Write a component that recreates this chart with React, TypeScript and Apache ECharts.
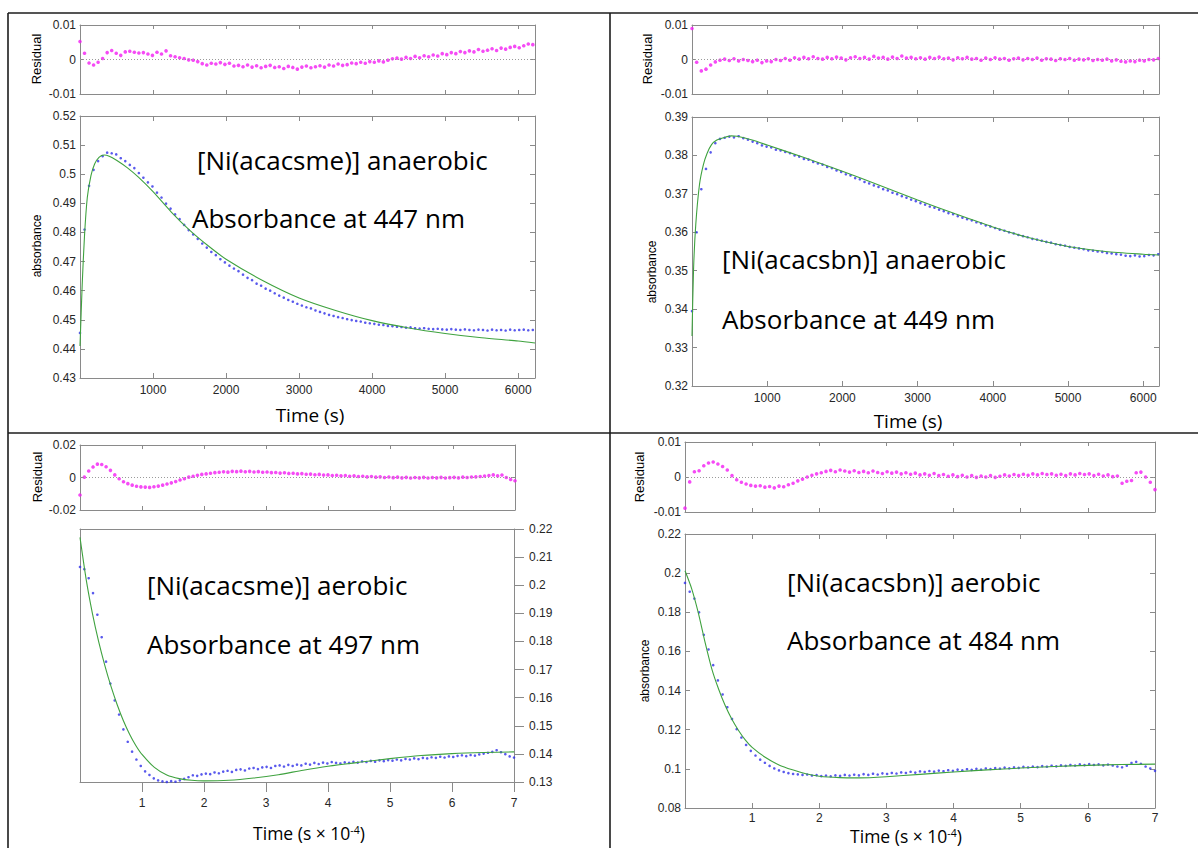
import React, { useEffect, useRef } from 'react';
import * as echarts from 'echarts';

// ---------- sampling ----------
const TOP_STEP = 62; // s between samples (top panels)
const BOTTOM_STEP = 0.07; // 10^4 s between samples (bottom panels)
const N = 101;

// ---------- Panel 1: [Ni(acacsme)] anaerobic ----------
const p1Data = [
  0.4455, 0.481, 0.496, 0.5015, 0.5045, 0.5062, 0.5074, 0.5072, 0.5068, 0.5055,
  0.5045, 0.5032, 0.5021, 0.5004, 0.4988, 0.4972, 0.4958, 0.4937, 0.492, 0.4899,
  0.4882, 0.4862, 0.4846, 0.4826, 0.4808, 0.4793, 0.4778, 0.4762, 0.4748, 0.4733,
  0.4722, 0.4708, 0.4697, 0.4686, 0.4676, 0.4667, 0.4655, 0.4644, 0.4636, 0.4624,
  0.4617, 0.4607, 0.46, 0.4591, 0.4583, 0.4576, 0.4568, 0.4562, 0.4555, 0.4549,
  0.4543, 0.4539, 0.4532, 0.4527, 0.4522, 0.4517, 0.4513, 0.4509, 0.4506, 0.4502,
  0.4499, 0.4496, 0.4494, 0.449, 0.4488, 0.4486, 0.4483, 0.4482, 0.4479, 0.4478,
  0.4476, 0.4475, 0.4473, 0.4474, 0.4471, 0.447, 0.4471, 0.4469, 0.4468, 0.4469,
  0.4467, 0.4466, 0.4468, 0.4466, 0.4465, 0.4467, 0.4465, 0.4464, 0.4466, 0.4465,
  0.4463, 0.4466, 0.4464, 0.4465, 0.4463, 0.4466, 0.4464, 0.4465, 0.4466, 0.4464,
  0.4465,
];
const p1Res = [
  0.0052, 0.0018, -0.001, -0.0016, -0.0008, 0.0003, 0.002, 0.0026, 0.0018, 0.0012,
  0.0022, 0.0024, 0.0021, 0.0019, 0.002, 0.0016, 0.0012, 0.0021, 0.0016, 0.0025,
  0.0011, 0.0008, 0.0005, 0.0003, -0.0001, -0.0002, -0.0006, -0.0012, -0.0016, -0.0011,
  -0.0013, -0.0009, -0.0014, -0.0011, -0.0019, -0.0017, -0.0021, -0.0016, -0.0022, -0.0018,
  -0.0024, -0.002, -0.0017, -0.0023, -0.0021, -0.0026, -0.002, -0.0023, -0.0028, -0.0022,
  -0.0019, -0.0024, -0.0021, -0.0018, -0.0022, -0.0016, -0.0019, -0.0013, -0.0017, -0.0015,
  -0.001, -0.0012, -0.0008, -0.0011, -0.0006, -0.0008, -0.0004, -0.0007, -0.0002, 0.0002,
  0.0004, 0.0001, 0.0006, 0.0003, 0.0009, 0.0005, 0.0011, 0.0008, 0.0013, 0.001,
  0.0017, 0.0014, 0.002, 0.0017, 0.0023, 0.002, 0.0025, 0.0022, 0.0029, 0.0024,
  0.0027, 0.0031, 0.0026, 0.0033, 0.003, 0.0035, 0.0038, 0.0034, 0.004, 0.0045,
  0.0043,
];
const p1FitT = [0, 30, 62, 100, 150, 200, 260, 330, 400, 500, 650, 800, 1000, 1250, 1500, 1750, 2000, 2500, 3000, 3500, 4000, 4500, 5000, 5500, 6000, 6230];
const p1FitV = [0.441, 0.462, 0.479, 0.492, 0.4995, 0.5035, 0.5058, 0.5066, 0.5062, 0.5048, 0.5022, 0.499, 0.494, 0.487, 0.4808, 0.4755, 0.4708, 0.4635, 0.4575, 0.4532, 0.4497, 0.4472, 0.4453, 0.4438, 0.4427, 0.442];

// ---------- Panel 2: [Ni(acacsbn)] anaerobic ----------
const p2Data = [
  0.3395, 0.36, 0.3712, 0.3765, 0.3808, 0.3832, 0.3843, 0.3846, 0.3849, 0.3847,
  0.385, 0.3845, 0.3841, 0.3836, 0.3832, 0.3826, 0.3823, 0.3821, 0.3815, 0.3813,
  0.3809, 0.3806, 0.38, 0.3797, 0.3791, 0.3789, 0.3783, 0.3779, 0.3776, 0.377,
  0.3767, 0.3761, 0.3757, 0.3751, 0.3748, 0.3741, 0.3738, 0.3731, 0.3727, 0.3722,
  0.3718, 0.3712, 0.3709, 0.3703, 0.3699, 0.3694, 0.369, 0.3685, 0.3681, 0.3676,
  0.3672, 0.3667, 0.3664, 0.3659, 0.3655, 0.365, 0.3647, 0.3642, 0.3638, 0.3634,
  0.3631, 0.3626, 0.3623, 0.3618, 0.3615, 0.3611, 0.3607, 0.3604, 0.36, 0.3597,
  0.3593, 0.359, 0.3587, 0.3583, 0.3581, 0.3578, 0.3575, 0.3573, 0.3569, 0.3567,
  0.3565, 0.3562, 0.356, 0.3558, 0.3556, 0.3553, 0.3552, 0.355, 0.3549, 0.3546,
  0.3545, 0.3543, 0.3542, 0.3539, 0.3538, 0.354, 0.3537, 0.3538, 0.3541, 0.354,
  0.3543,
];
const p2Res = [
  0.009, -0.0008, -0.0033, -0.0028, -0.0016, -0.0007, -0.0002, 0.0001, -0.0003, 0.0002,
  -0.0004, 0.0, -0.0003, -0.0006, -0.0002, -0.0009, -0.0004, -0.0006, 0.0, -0.0003,
  0.0003, -0.0002, 0.0005, 0.0001, 0.0006, 0.0002, 0.0008, 0.0003, 0.0001, 0.0006,
  0.0002, 0.0007, 0.0004, -0.0001, 0.0005, 0.0008, 0.0003, 0.0006, 0.0001, 0.0009,
  0.0004, 0.0006, 0.0001, 0.0007, 0.0003, 0.001, 0.0004, 0.0006, 0.0002, 0.0005,
  0.0001, 0.0006, 0.0003, 0.0007, 0.0002, 0.0004, -0.0001, 0.0005, 0.0002, 0.0006,
  0.0001, 0.0003, -0.0002, 0.0004, 0.0, 0.0005, 0.0001, 0.0003, -0.0002, 0.0002,
  0.0004, -0.0001, 0.0003, 0.0, 0.0004, -0.0002, 0.0002, 0.0001, -0.0003, 0.0002,
  0.0, 0.0003, -0.0002, 0.0001, -0.0001, 0.0002, -0.0003, 0.0, -0.0002, 0.0001,
  -0.0004, -0.0001, -0.0005, -0.0007, -0.0004, -0.0006, -0.0002, -0.0004, 0.0, -0.0001,
  0.0003,
];
const p2FitT = [0, 20, 50, 100, 150, 200, 260, 330, 420, 520, 600, 800, 1000, 1500, 2000, 2500, 3000, 3500, 4000, 4500, 5000, 5500, 6000, 6210];
const p2FitV = [0.333, 0.35, 0.362, 0.3725, 0.3775, 0.3805, 0.3828, 0.384, 0.3846, 0.3851, 0.385, 0.384, 0.3827, 0.3794, 0.3759, 0.3722, 0.3684, 0.3648, 0.3614, 0.3585, 0.3563, 0.355, 0.3543, 0.3541];

// ---------- Panel 3: [Ni(acacsme)] aerobic ----------
const p3Data = [
  0.2065, 0.2057, 0.2025, 0.1972, 0.1895, 0.1815, 0.1728, 0.165, 0.159, 0.154,
  0.1487, 0.1443, 0.1408, 0.138, 0.1357, 0.1338, 0.1325, 0.1313, 0.1306, 0.1302,
  0.13, 0.1303, 0.1301, 0.1306, 0.1311, 0.1317, 0.1324, 0.1322, 0.1327, 0.133,
  0.1328, 0.1334, 0.1331, 0.1337, 0.134, 0.1336, 0.1343, 0.1345, 0.1341, 0.1348,
  0.135, 0.1346, 0.1352, 0.1354, 0.135, 0.1357, 0.1359, 0.1355, 0.1361, 0.1357,
  0.1362, 0.1359, 0.1365, 0.1362, 0.1368, 0.1364, 0.1369, 0.1366, 0.1371, 0.1368,
  0.1366, 0.137, 0.1368, 0.1372, 0.1369, 0.1373, 0.1371, 0.1375, 0.1372, 0.1377,
  0.1374, 0.1378, 0.1376, 0.138, 0.1377, 0.1382, 0.138, 0.1384, 0.1381, 0.1386,
  0.1384, 0.1388, 0.1386, 0.139, 0.1387, 0.1391, 0.1389, 0.1393, 0.1395, 0.1392,
  0.1396, 0.1394, 0.1398, 0.1401, 0.1404, 0.1407, 0.1413, 0.1406, 0.1399, 0.1391,
  0.1387,
];
const p3Res = [
  -0.0108, 0.0002, 0.004, 0.0065, 0.0082, 0.008, 0.0066, 0.0044, 0.0016, -0.0008,
  -0.0026, -0.0038, -0.0047, -0.0054, -0.0058, -0.0059, -0.0061, -0.0057, -0.0053, -0.0047,
  -0.004, -0.0033, -0.0025, -0.0015, -0.0008, 0.0002, 0.0008, 0.0014, 0.0019, 0.0022,
  0.0026, 0.003, 0.0032, 0.0035, 0.0033, 0.0038, 0.0036, 0.0039, 0.0035, 0.0038,
  0.0034, 0.0036, 0.0032, 0.0034, 0.003, 0.0031, 0.0027, 0.0029, 0.0025, 0.0026,
  0.0022, 0.0024, 0.002, 0.0021, 0.0017, 0.0019, 0.0015, 0.0016, 0.0012, 0.0014,
  0.001, 0.0012, 0.0008, 0.001, 0.0006, 0.0008, 0.0004, 0.0006, 0.0002, 0.0004,
  0.0, 0.0003, -0.0001, 0.0002, -0.0002, 0.0001, -0.0003, 0.0, -0.0002, 0.0001,
  -0.0003, 0.0, -0.0002, 0.0001, -0.0003, -0.0001, 0.0001, -0.0002, 0.0002, 0.0,
  0.0003, 0.0004, 0.0006, 0.0009, 0.0012, 0.0016, 0.001, 0.0015, 0.0, -0.0012,
  -0.002,
];
const p3FitT = [0, 0.1, 0.2, 0.3, 0.4, 0.5, 0.6, 0.7, 0.8, 0.9, 1.0, 1.2, 1.4, 1.6, 1.8, 2.0, 2.4, 2.8, 3.2, 3.6, 4.0, 4.5, 5.0, 5.5, 6.0, 6.5, 7.0];
const p3FitV = [0.217, 0.202, 0.19, 0.18, 0.1715, 0.164, 0.1575, 0.1518, 0.147, 0.143, 0.1398, 0.1352, 0.1325, 0.1312, 0.1306, 0.1304, 0.1306, 0.1314, 0.1326, 0.1342, 0.1356, 0.137, 0.1383, 0.1394, 0.1401, 0.1405, 0.1407];

// ---------- Panel 4: [Ni(acacsbn)] aerobic ----------
const p4Data = [
  0.195, 0.1905, 0.187, 0.18, 0.1685, 0.161, 0.153, 0.1452, 0.138, 0.1315,
  0.1255, 0.1203, 0.116, 0.1122, 0.1092, 0.1068, 0.1047, 0.1031, 0.1015, 0.1002,
  0.0992, 0.0984, 0.0978, 0.0974, 0.0972, 0.0969, 0.0971, 0.0966, 0.0968, 0.0963,
  0.0966, 0.0962, 0.0967, 0.0964, 0.0969, 0.0966, 0.097, 0.0967, 0.0973, 0.0969,
  0.0975, 0.0971, 0.0977, 0.0974, 0.0979, 0.0976, 0.0982, 0.0979, 0.0985, 0.0981,
  0.0987, 0.0984, 0.0989, 0.0986, 0.0991, 0.0988, 0.0993, 0.099, 0.0996, 0.0992,
  0.0998, 0.0995, 0.1, 0.0996, 0.1002, 0.0999, 0.1004, 0.1001, 0.1006, 0.1003,
  0.1008, 0.1005, 0.101, 0.1007, 0.1012, 0.1009, 0.1014, 0.1011, 0.1016, 0.1013,
  0.1018, 0.1015, 0.102, 0.1017, 0.1023, 0.1019, 0.1024, 0.102, 0.1023, 0.1018,
  0.1022, 0.1017, 0.1012, 0.1008, 0.1016, 0.103, 0.1036, 0.1026, 0.1012, 0.1002,
  0.099,
];
const p4Res = [
  -0.0089, -0.0014, 0.0015, 0.0018, 0.0032, 0.004, 0.0043, 0.0037, 0.003, 0.002,
  0.0004, -0.0008, -0.0015, -0.002, -0.0024, -0.0026, -0.0025, -0.0029, -0.0027, -0.0031,
  -0.0026, -0.0028, -0.0022, -0.0018, -0.0011, -0.0006, 0.0, 0.0005, 0.0009, 0.0012,
  0.0016, 0.0019, 0.0015, 0.002, 0.0017, 0.0014, 0.0018, 0.0013, 0.0016, 0.0012,
  0.0017, 0.0013, 0.001, 0.0015, 0.0011, 0.0014, 0.0009, 0.0012, 0.0008, 0.0011,
  0.0006, 0.0009, 0.0005, 0.001, 0.0004, 0.0007, 0.0002, 0.0006, 0.0001, 0.0005,
  0.0, 0.0004, -0.0001, 0.0003, 0.0, 0.0004, -0.0001, 0.0002, 0.0006, 0.0003,
  0.0007, 0.0004, 0.0008, 0.0005, 0.0009, 0.0006, 0.001, 0.0007, 0.0009, 0.0005,
  0.0008, 0.0004, 0.0009, 0.0006, 0.001, 0.0007, 0.0009, 0.0004, 0.0008, 0.0003,
  0.0006, 0.0001, 0.0003, -0.0018, -0.0012, -0.001, 0.0012, 0.0014, 0.0, -0.0015,
  -0.0036,
];
const p4FitT = [0, 0.1, 0.2, 0.3, 0.4, 0.5, 0.6, 0.7, 0.8, 0.9, 1.0, 1.2, 1.4, 1.6, 1.8, 2.0, 2.3, 2.6, 3.0, 3.5, 4.0, 4.5, 5.0, 5.5, 6.0, 6.5, 7.0];
const p4FitV = [0.2012, 0.192, 0.1795, 0.1645, 0.151, 0.1408, 0.1322, 0.1252, 0.1195, 0.1147, 0.111, 0.1058, 0.102, 0.0995, 0.0975, 0.0962, 0.0955, 0.0954, 0.096, 0.0972, 0.0984, 0.0995, 0.1004, 0.1012, 0.1018, 0.1022, 0.1024];

// ---------- texts ----------
const titles = [
  ['[Ni(acacsme)] anaerobic', 'Absorbance at 447 nm'],
  ['[Ni(acacsbn)] anaerobic', 'Absorbance at 449 nm'],
  ['[Ni(acacsme)] aerobic', 'Absorbance at 497 nm'],
  ['[Ni(acacsbn)] aerobic', 'Absorbance at 484 nm'],
];

// ---------- style ----------
const AXIS_COLOR = '#8a8a8a';
const LABEL_COLOR = '#262626';
const SANS = '"Liberation Sans", Arial, sans-serif';
const HUM = '"Open Sans", Lato, sans-serif';
const BLUE = '#2f2fe8';
const MAGENTA = '#f21ef2';
const GREEN = '#3fa23f';

const GRIDS = [
  { left: 80, top: 25, width: 455, height: 69 },
  { left: 80, top: 116, width: 455, height: 262 },
  { left: 692, top: 25, width: 467, height: 69 },
  { left: 692, top: 117, width: 467, height: 269 },
  { left: 80, top: 445, width: 435, height: 65 },
  { left: 80, top: 529, width: 434, height: 253 },
  { left: 685, top: 442, width: 470, height: 70 },
  { left: 685, top: 534, width: 470, height: 274 },
];

type AxOpt = {
  gi: number; min: number; max: number; interval: number;
  pos: 'bottom' | 'top' | 'left' | 'right';
  labels?: boolean; ticks?: boolean; inside?: boolean; len?: number; margin?: number;
  showMin?: boolean; showMax?: boolean;
};

const plain = (v: number) => String(parseFloat(Number(v).toFixed(6)));

function axis(o: AxOpt) {
  return {
    type: 'value',
    gridIndex: o.gi,
    min: o.min,
    max: o.max,
    interval: o.interval,
    position: o.pos,
    axisLine: { show: true, onZero: false, lineStyle: { color: AXIS_COLOR, width: 1 } },
    axisTick: {
      show: o.ticks !== false,
      inside: o.inside !== false,
      length: o.len ?? 5,
      lineStyle: { color: AXIS_COLOR, width: 1 },
    },
    axisLabel: {
      show: !!o.labels,
      color: LABEL_COLOR,
      fontSize: 12,
      fontFamily: SANS,
      margin: o.margin ?? 5,
      showMinLabel: o.showMin ?? true,
      showMaxLabel: o.showMax ?? true,
      formatter: plain,
    },
    splitLine: { show: false },
  };
}

type Panel = {
  xr: [number, number, number];
  resY: [number, number, number];
  mainY: [number, number, number];
  times: number[];
  data: number[];
  res: number[];
  fitT: number[];
  fitV: number[];
  showMaxX: boolean;
  aerobicLeft?: boolean;
  xMargin: number;
};

function buildOption() {
  const topTimes = Array.from({ length: N }, (_, i) => i * TOP_STEP);
  const botTimes = Array.from({ length: N }, (_, i) => +(i * BOTTOM_STEP).toFixed(2));
  const panels: Panel[] = [
    { xr: [0, 6230, 1000], resY: [-0.01, 0.01, 0.01], mainY: [0.43, 0.52, 0.01], times: topTimes, data: p1Data, res: p1Res, fitT: p1FitT, fitV: p1FitV, showMaxX: false, xMargin: 6 },
    { xr: [0, 6210, 1000], resY: [-0.01, 0.01, 0.01], mainY: [0.32, 0.39, 0.01], times: topTimes, data: p2Data, res: p2Res, fitT: p2FitT, fitV: p2FitV, showMaxX: false, xMargin: 6 },
    { xr: [0, 7, 1], resY: [-0.02, 0.02, 0.02], mainY: [0.13, 0.22, 0.01], times: botTimes, data: p3Data, res: p3Res, fitT: p3FitT, fitV: p3FitV, showMaxX: true, aerobicLeft: true, xMargin: 15 },
    { xr: [0, 7, 1], resY: [-0.01, 0.01, 0.01], mainY: [0.08, 0.22, 0.02], times: botTimes, data: p4Data, res: p4Res, fitT: p4FitT, fitV: p4FitV, showMaxX: true, xMargin: 4 },
  ];

  const xAxes: any[] = [];
  const yAxes: any[] = [];
  const series: any[] = [];

  panels.forEach((p, k) => {
    const gRes = 2 * k;
    const gMain = 2 * k + 1;
    const [x0, x1, xi] = p.xr;
    // residual box
    xAxes.push(axis({ gi: gRes, min: x0, max: x1, interval: xi, pos: 'bottom', len: 4 }));
    xAxes.push(axis({ gi: gRes, min: x0, max: x1, interval: xi, pos: 'top', len: 4 }));
    yAxes.push(axis({ gi: gRes, min: p.resY[0], max: p.resY[1], interval: p.resY[2], pos: 'left', labels: true, len: 4, margin: 4 }));
    yAxes.push(axis({ gi: gRes, min: p.resY[0], max: p.resY[1], interval: p.resY[2], pos: 'right', len: 4 }));
    // main box
    if (p.aerobicLeft) {
      xAxes.push(axis({ gi: gMain, min: x0, max: x1, interval: xi, pos: 'bottom', labels: true, inside: false, len: 10, margin: p.xMargin, showMin: false, showMax: true }));
      xAxes.push(axis({ gi: gMain, min: x0, max: x1, interval: xi, pos: 'top', ticks: false }));
      yAxes.push(axis({ gi: gMain, min: p.mainY[0], max: p.mainY[1], interval: p.mainY[2], pos: 'left', ticks: false }));
      yAxes.push(axis({ gi: gMain, min: p.mainY[0], max: p.mainY[1], interval: p.mainY[2], pos: 'right', labels: true, inside: false, len: 10, margin: 15 }));
    } else {
      xAxes.push(axis({ gi: gMain, min: x0, max: x1, interval: xi, pos: 'bottom', labels: true, len: 5, margin: p.xMargin, showMin: false, showMax: p.showMaxX }));
      xAxes.push(axis({ gi: gMain, min: x0, max: x1, interval: xi, pos: 'top', len: 5 }));
      yAxes.push(axis({ gi: gMain, min: p.mainY[0], max: p.mainY[1], interval: p.mainY[2], pos: 'left', labels: true, len: 5, margin: 4 }));
      yAxes.push(axis({ gi: gMain, min: p.mainY[0], max: p.mainY[1], interval: p.mainY[2], pos: 'right', len: 5 }));
    }

    series.push({
      type: 'scatter',
      xAxisIndex: 2 * gRes,
      yAxisIndex: 2 * gRes,
      symbol: 'circle',
      symbolSize: 3.6,
      itemStyle: { color: MAGENTA },
      data: p.res.map((v, i) => [p.times[i], v]),
      markLine: {
        silent: true,
        symbol: 'none',
        label: { show: false },
        lineStyle: { color: '#9a9a9a', type: [1, 2], width: 1 },
        data: [{ yAxis: 0 }],
      },
      z: 3,
    });
    series.push({
      type: 'scatter',
      xAxisIndex: 2 * gMain,
      yAxisIndex: 2 * gMain,
      symbol: 'circle',
      symbolSize: 2.6,
      itemStyle: { color: BLUE },
      data: p.data.map((v, i) => [p.times[i], v]),
      z: 3,
    });
    series.push({
      type: 'line',
      xAxisIndex: 2 * gMain,
      yAxisIndex: 2 * gMain,
      showSymbol: false,
      smooth: 0.25,
      lineStyle: { color: GREEN, width: 1.1 },
      data: p.fitT.map((t, i) => [t, p.fitV[i]]),
      z: 4,
    });
  });

  const line = (x1: number, y1: number, x2: number, y2: number) => ({
    type: 'line',
    shape: { x1, y1, x2, y2 },
    style: { stroke: '#1c1c1c', lineWidth: 1.6 },
    silent: true,
  });
  const text = (x: number, y: number, t: string, font: string, align = 'left', rotation = 0) => ({
    type: 'text',
    x,
    y,
    rotation,
    silent: true,
    style: {
      text: t,
      font,
      fill: '#000',
      textAlign: align,
      align,
      textVerticalAlign: 'middle',
      verticalAlign: 'middle',
    },
  });
  const supText = (x: number, y: number) => ({
    type: 'text',
    x,
    y,
    silent: true,
    style: {
      text: '{a|Time (s × 10}{b|-4}{a|)}',
      fill: '#000',
      textAlign: 'center',
      align: 'center',
      textVerticalAlign: 'middle',
      verticalAlign: 'middle',
      rich: {
        a: { fontSize: 17.5, fontFamily: HUM, fill: '#000', color: '#000', lineHeight: 17 },
        b: { fontSize: 10.5, fontFamily: HUM, fill: '#000', color: '#000', verticalAlign: 'top', lineHeight: 10 },
      },
    },
  });

  const annFont = `26px ${HUM}`;
  const axFont = `13px ${SANS}`;
  const absFont = `12px ${SANS}`;
  const timeFont = `19px ${HUM}`;
  const ROT = Math.PI / 2;

  const graphics: any[] = [
    line(8, 13, 1198, 13),
    line(8, 433, 1198, 433),
    line(8, 13, 8, 848),
    line(610, 13, 610, 848),
    text(36, 59, 'Residual', axFont, 'center', ROT),
    text(37, 246, 'absorbance', absFont, 'center', ROT),
    text(647, 59, 'Residual', axFont, 'center', ROT),
    text(652, 272, 'absorbance', absFont, 'center', ROT),
    text(37, 477, 'Residual', axFont, 'center', ROT),
    text(639, 477, 'Residual', axFont, 'center', ROT),
    text(645, 671, 'absorbance', absFont, 'center', ROT),
    text(310, 415, 'Time (s)', timeFont, 'center'),
    text(908, 421, 'Time (s)', timeFont, 'center'),
    supText(309, 833),
    supText(906, 836),
    text(197, 160, titles[0][0], annFont),
    text(192, 218, titles[0][1], annFont),
    text(722, 259, titles[1][0], annFont),
    text(722, 319, titles[1][1], annFont),
    text(147, 585, titles[2][0], annFont),
    text(147, 644, titles[2][1], annFont),
    text(787, 582, titles[3][0], annFont),
    text(787, 640, titles[3][1], annFont),
  ];

  return {
    animation: false,
    backgroundColor: '#ffffff',
    grid: GRIDS.map((g) => ({ ...g, containLabel: false })),
    xAxis: xAxes,
    yAxis: yAxes,
    series,
    graphic: { elements: graphics },
  };
}

export default function App() {
  const ref = useRef<HTMLDivElement>(null);
  useEffect(() => {
    document.body.style.margin = '0';
    if (!ref.current) return;
    const chart = echarts.init(ref.current, undefined, { renderer: 'svg' });
    chart.setOption(buildOption() as any);
    return () => chart.dispose();
  }, []);
  return <div ref={ref} style={{ width: 1198, height: 848, background: '#fff' }} />;
}
